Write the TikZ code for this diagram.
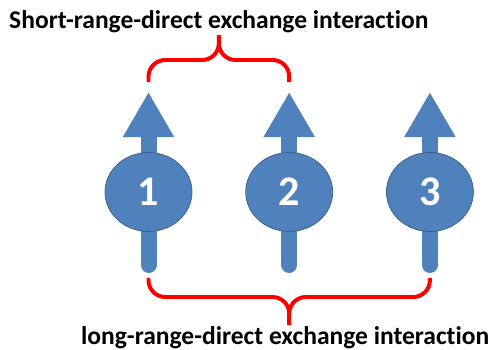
\documentclass[tikz,border=0pt]{standalone}
\usepackage{fontspec}
\setmainfont{Carlito}[Ligatures=NoCommon]
\usepackage{tikz}
\usetikzlibrary{shapes.geometric, arrows.meta, positioning, calc, backgrounds}
\definecolor{spinblue}{RGB}{79, 129, 189}
\definecolor{spinedge}{RGB}{56, 93, 138}
\definecolor{bracered}{RGB}{255, 0, 0}

\begin{document}
\begin{tikzpicture}[
    node distance=1.59cm,
    spin/.style={ellipse, draw=spinedge, line width=0.6pt, fill=spinblue,
                 minimum width=2.61cm, minimum height=2.37cm, inner sep=0pt,
                 font=\fontsize{36}{40}\selectfont\bfseries, text=white},
    moment/.style={draw=spinblue, line width=0.48cm, line cap=round,
                   -{Triangle[length=1.35cm, width=1.44cm]}},
    brace/.style={draw=bracered, line width=3.4pt, rounded corners=0.5cm},
    caption/.style={font=\fontsize{21.8}{26}\selectfont\bfseries, anchor=base}
]
    \useasboundingbox (-4.455,-4.71) rectangle (10.275,5.76);

    \node[spin] (s1) at (0,0) {1};
    \node[spin, right=of s1] (s2) {2};
    \node[spin, right=of s2] (s3) {3};

    % spin moments, behind the spheres
    \begin{scope}[on background layer]
        \foreach \i in {1,2,3} {
            \draw[moment] ([yshift=-2.19cm]s\i.center) -- ([yshift=3cm]s\i.center);
        }
    \end{scope}

    % nearest neighbours
    \coordinate (s1top) at ([yshift=3.3cm]s1.center);
    \coordinate (s2top) at ([yshift=3.3cm]s2.center);
    \coordinate (shortmid) at ($(s1top)!0.5!(s2top)$);
    \draw[brace] (s1top) |- ([yshift=0.66cm]shortmid) -- ([yshift=1.41cm]shortmid)
                 (s2top) |- ([yshift=0.66cm]shortmid) -- ([yshift=1.41cm]shortmid);
    \node[caption] (short) at ([yshift=1.62cm]shortmid) {Short-range-direct exchange interaction};

    % first and third spin
    \coordinate (s1bot) at ([yshift=-2.58cm]s1.center);
    \coordinate (s3bot) at ([yshift=-2.58cm]s3.center);
    \coordinate (longmid) at ($(s1bot)!0.5!(s3bot)$);
    \draw[brace] (s1bot) |- ([yshift=-0.57cm]longmid) -- ([yshift=-1.41cm]longmid)
                 (s3bot) |- ([yshift=-0.57cm]longmid) -- ([yshift=-1.41cm]longmid);
    \node[caption] (long) at ([xshift=-0.12cm, yshift=-1.98cm]longmid) {long-range-direct exchange interaction};
\end{tikzpicture}
\end{document}
